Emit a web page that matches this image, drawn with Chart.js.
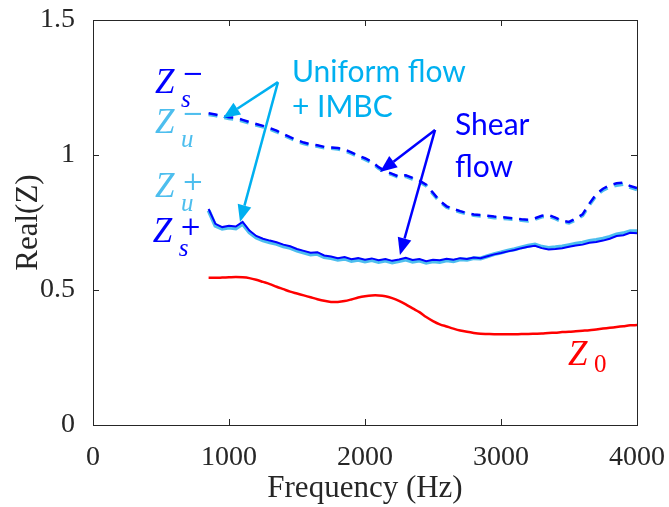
<!DOCTYPE html>
<html>
<head>
<meta charset="utf-8">
<script src="https://cdn.jsdelivr.net/npm/chart.js@4"></script>
<style>
  html, body { margin: 0; padding: 0; background: #fff; }
  #wrap { width: 669px; height: 507px; }
</style>
</head>
<body>
<div id="wrap"><canvas id="chart"></canvas></div>
<script>
// frequency grid (Hz)
const freq = [850, 900, 950, 1000, 1050, 1100, 1150, 1200, 1250, 1300,
  1350, 1400, 1450, 1500, 1550, 1600, 1650, 1700, 1750, 1800,
  1850, 1900, 1950, 2000, 2050, 2100, 2150, 2200, 2250, 2300,
  2350, 2400, 2450, 2500, 2550, 2600, 2650, 2700, 2750, 2800,
  2850, 2900, 2950, 3000, 3050, 3100, 3150, 3200, 3250, 3300,
  3350, 3400, 3450, 3500, 3550, 3600, 3650, 3700, 3750, 3800,
  3850, 3900, 3950, 4000];

// shear flow, Z_s^+ (solid dark blue)
const zsPlus = [0.800, 0.745, 0.733, 0.738, 0.735, 0.752, 0.720, 0.700, 0.690, 0.683,
  0.677, 0.668, 0.662, 0.652, 0.645, 0.638, 0.640, 0.628, 0.624, 0.618,
  0.622, 0.614, 0.618, 0.612, 0.617, 0.610, 0.615, 0.608, 0.613, 0.619,
  0.611, 0.615, 0.607, 0.612, 0.610, 0.616, 0.612, 0.618, 0.615, 0.620,
  0.618, 0.625, 0.632, 0.637, 0.643, 0.648, 0.655, 0.660, 0.664, 0.655,
  0.650, 0.652, 0.655, 0.660, 0.665, 0.668, 0.675, 0.678, 0.683, 0.690,
  0.700, 0.703, 0.712, 0.710];

// uniform flow + IMBC, Z_u^+ (solid light blue)
const zuPlus = [0.795, 0.738, 0.727, 0.731, 0.728, 0.745, 0.714, 0.694, 0.684, 0.677,
  0.671, 0.662, 0.656, 0.646, 0.639, 0.632, 0.634, 0.622, 0.618, 0.612,
  0.616, 0.608, 0.612, 0.606, 0.611, 0.604, 0.609, 0.602, 0.607, 0.613,
  0.605, 0.609, 0.601, 0.606, 0.604, 0.610, 0.607, 0.614, 0.612, 0.618,
  0.617, 0.625, 0.633, 0.639, 0.646, 0.651, 0.658, 0.664, 0.668, 0.660,
  0.656, 0.658, 0.661, 0.666, 0.671, 0.675, 0.682, 0.685, 0.690, 0.697,
  0.706, 0.710, 0.718, 0.718];

// shear flow, Z_s^- (dashed dark blue)
const zsMinus = [1.155, 1.150, 1.145, 1.140, 1.138, 1.130, 1.122, 1.115, 1.108, 1.100,
  1.090, 1.078, 1.066, 1.055, 1.046, 1.040, 1.036, 1.030, 1.028, 1.026,
  1.020, 1.010, 0.998, 0.988, 0.975, 0.955, 0.940, 0.930, 0.920, 0.925,
  0.915, 0.905, 0.890, 0.860, 0.830, 0.810, 0.800, 0.792, 0.785, 0.780,
  0.778, 0.775, 0.772, 0.770, 0.768, 0.765, 0.762, 0.760, 0.766, 0.775,
  0.778, 0.768, 0.757, 0.752, 0.765, 0.780, 0.820, 0.855, 0.875, 0.888,
  0.895, 0.898, 0.885, 0.878];

// uniform flow + IMBC, Z_u^- (dashed light blue)
const zuMinus = [1.150, 1.146, 1.140, 1.135, 1.133, 1.126, 1.118, 1.111, 1.104, 1.096,
  1.086, 1.074, 1.062, 1.051, 1.042, 1.036, 1.032, 1.027, 1.025, 1.022,
  1.016, 1.006, 0.994, 0.984, 0.971, 0.951, 0.937, 0.927, 0.917, 0.921,
  0.911, 0.901, 0.886, 0.856, 0.827, 0.807, 0.797, 0.789, 0.782, 0.777,
  0.774, 0.771, 0.768, 0.766, 0.764, 0.761, 0.758, 0.756, 0.762, 0.771,
  0.774, 0.764, 0.753, 0.748, 0.760, 0.776, 0.815, 0.850, 0.870, 0.882,
  0.888, 0.892, 0.880, 0.872];

// no flow, Z_0 (red)
const z0 = [0.545, 0.545, 0.546, 0.547, 0.548, 0.547, 0.544, 0.538, 0.530, 0.522,
  0.512, 0.503, 0.494, 0.487, 0.480, 0.473, 0.466, 0.460, 0.456, 0.456,
  0.459, 0.465, 0.472, 0.477, 0.480, 0.480, 0.477, 0.470, 0.460, 0.447,
  0.432, 0.418, 0.400, 0.385, 0.373, 0.365, 0.357, 0.350, 0.345, 0.341,
  0.338, 0.337, 0.336, 0.336, 0.336, 0.336, 0.337, 0.337, 0.338, 0.339,
  0.341, 0.342, 0.344, 0.345, 0.347, 0.349, 0.351, 0.354, 0.357, 0.360,
  0.363, 0.366, 0.369, 0.370];

const xTicks = [0, 1000, 2000, 3000, 4000];
const yTicks = [0, 0.5, 1, 1.5];

const DARK = "#0000FF";
const LIGHT = "#4DBEEE";
const CYAN = "#00B0F0";
const RED = "#FF0000";
const AXIS = "#262626";

const pts = (ys) => freq.map((f, i) => ({ x: f, y: ys[i] }));

// arrows and text annotations, positioned in data units
const arrows = [
  { from: [1360, 1.27], to: [956, 1.137], color: CYAN },
  { from: [1360, 1.27], to: [1081, 0.752], color: CYAN },
  { from: [2515, 1.093], to: [2110, 0.937], color: DARK },
  { from: [2515, 1.093], to: [2257, 0.630], color: DARK },
];
const notes = [
  { text: "Uniform flow", at: [1463, 1.307], color: CYAN },
  { text: "+ IMBC", at: [1463, 1.178], color: CYAN },
  { text: "Shear", at: [2662, 1.11], color: DARK },
  { text: "flow", at: [2662, 0.954], color: DARK },
];
const zLabels = [
  { at: [456, 1.23], sub: "s", sup: "\u2212", color: DARK },
  { at: [456, 1.081], sub: "u", sup: "\u2212", color: LIGHT },
  { at: [456, 0.844], sub: "u", sup: "+", color: LIGHT },
  { at: [440, 0.678], sub: "s", sup: "+", color: DARK },
];

const frame = {
  id: "frame",
  afterDraw(chart) {
    const { ctx, chartArea: a, scales: { x, y } } = chart;
    ctx.save();
    ctx.strokeStyle = AXIS;
    ctx.lineWidth = 1;
    ctx.strokeRect(Math.round(a.left) + 0.5, Math.round(a.top) + 0.5,
      Math.round(a.right - a.left), Math.round(a.bottom - a.top));
    ctx.beginPath();
    xTicks.forEach(v => {
      const px = Math.round(x.getPixelForValue(v)) + 0.5;
      ctx.moveTo(px, a.bottom); ctx.lineTo(px, a.bottom - 6);
      ctx.moveTo(px, a.top); ctx.lineTo(px, a.top + 6);
    });
    yTicks.forEach(v => {
      const py = Math.round(y.getPixelForValue(v)) + 0.5;
      ctx.moveTo(a.left, py); ctx.lineTo(a.left + 6, py);
      ctx.moveTo(a.right, py); ctx.lineTo(a.right - 6, py);
    });
    ctx.stroke();

    // arrows
    arrows.forEach(ar => {
      const x0 = x.getPixelForValue(ar.from[0]), y0 = y.getPixelForValue(ar.from[1]);
      const x1 = x.getPixelForValue(ar.to[0]), y1 = y.getPixelForValue(ar.to[1]);
      const ang = Math.atan2(y1 - y0, x1 - x0);
      const hl = 17, hw = 7;
      const bx = x1 - hl * Math.cos(ang), by = y1 - hl * Math.sin(ang);
      ctx.strokeStyle = ar.color;
      ctx.fillStyle = ar.color;
      ctx.lineWidth = 2.5;
      ctx.beginPath(); ctx.moveTo(x0, y0); ctx.lineTo(bx, by); ctx.stroke();
      ctx.beginPath();
      ctx.moveTo(x1, y1);
      ctx.lineTo(bx + hw * Math.sin(ang), by - hw * Math.cos(ang));
      ctx.lineTo(bx - hw * Math.sin(ang), by + hw * Math.cos(ang));
      ctx.closePath(); ctx.fill();
    });

    // text notes
    ctx.font = "30px Lato";
    ctx.textBaseline = "middle";
    ctx.textAlign = "left";
    notes.forEach(n => {
      ctx.fillStyle = n.color;
      ctx.fillText(n.text, x.getPixelForValue(n.at[0]), y.getPixelForValue(n.at[1]));
    });

    // Z labels
    ctx.textBaseline = "alphabetic";
    zLabels.forEach(l => {
      const px = x.getPixelForValue(l.at[0]), py = y.getPixelForValue(l.at[1]);
      ctx.fillStyle = l.color;
      ctx.font = "italic 35px 'Liberation Serif'";
      ctx.fillText("Z", px, py);
      ctx.font = "italic 25px 'Liberation Serif'";
      ctx.fillText(l.sub, px + 26, py + 14);
      ctx.font = "26px 'DejaVu Serif'";
      ctx.fillText(l.sup, px + 27, py - (l.sup === "+" ? 7 : 11));
    });
    const zx = x.getPixelForValue(3493), zy = y.getPixelForValue(0.222);
    ctx.fillStyle = RED;
    ctx.font = "italic 35px 'Liberation Serif'";
    ctx.fillText("Z", zx, zy);
    ctx.font = "25px 'Liberation Serif'";
    ctx.fillText("0", zx + 26, zy + 7);
    ctx.restore();
  }
};

new Chart("chart", {
  type: "line",
  data: {
    datasets: [
      { label: "Zs+", data: pts(zsPlus), borderColor: DARK, borderWidth: 2, order: 1 },
      { label: "Zs-", data: pts(zsMinus), borderColor: DARK, borderWidth: 2.5, borderDash: [9, 7], order: 1 },
      { label: "Zu+", data: pts(zuPlus), borderColor: LIGHT, borderWidth: 4, order: 2 },
      { label: "Zu-", data: pts(zuMinus), borderColor: LIGHT, borderWidth: 3.5, borderDash: [9, 7], order: 2 },
      { label: "Z0", data: pts(z0), borderColor: RED, borderWidth: 2.5, tension: 0.3, order: 0 },
    ],
  },
  options: {
    responsive: true,
    maintainAspectRatio: false,
    animation: false,
    elements: { point: { radius: 0 }, line: { tension: 0 } },
    layout: { padding: { top: 20, right: 32, left: 0, bottom: 0 } },
    plugins: { legend: { display: false }, tooltip: { enabled: false } },
    scales: {
      x: {
        type: "linear",
        min: 0,
        max: 4000,
        grid: { display: false },
        border: { display: false },
        afterBuildTicks: (s) => { s.ticks = xTicks.map(v => ({ value: v })); },
        afterFit: (s) => { s.height = 82; s.paddingLeft = 0; s.paddingRight = 0; },
        ticks: {
          color: AXIS,
          padding: 8,
          maxRotation: 0,
          font: { family: "'Liberation Serif'", size: 28 },
          callback: (v) => String(v),
        },
        title: {
          display: true,
          text: "Frequency (Hz)",
          color: AXIS,
          padding: { top: 0, bottom: 0 },
          font: { family: "'Liberation Serif'", size: 31 },
        },
      },
      y: {
        min: 0,
        max: 1.5,
        grid: { display: false },
        border: { display: false },
        afterBuildTicks: (s) => { s.ticks = yTicks.map(v => ({ value: v })); },
        afterFit: (s) => { s.width = 93; s.paddingTop = 0; s.paddingBottom = 0; },
        ticks: {
          color: AXIS,
          padding: 10,
          font: { family: "'Liberation Serif'", size: 28 },
          callback: (v) => String(v),
        },
        title: {
          display: true,
          text: "Real(Z)",
          color: AXIS,
          padding: { top: 10, bottom: 0 },
          font: { family: "'Liberation Serif'", size: 31 },
        },
      },
    },
  },
  plugins: [frame],
});
</script>
</body>
</html>
